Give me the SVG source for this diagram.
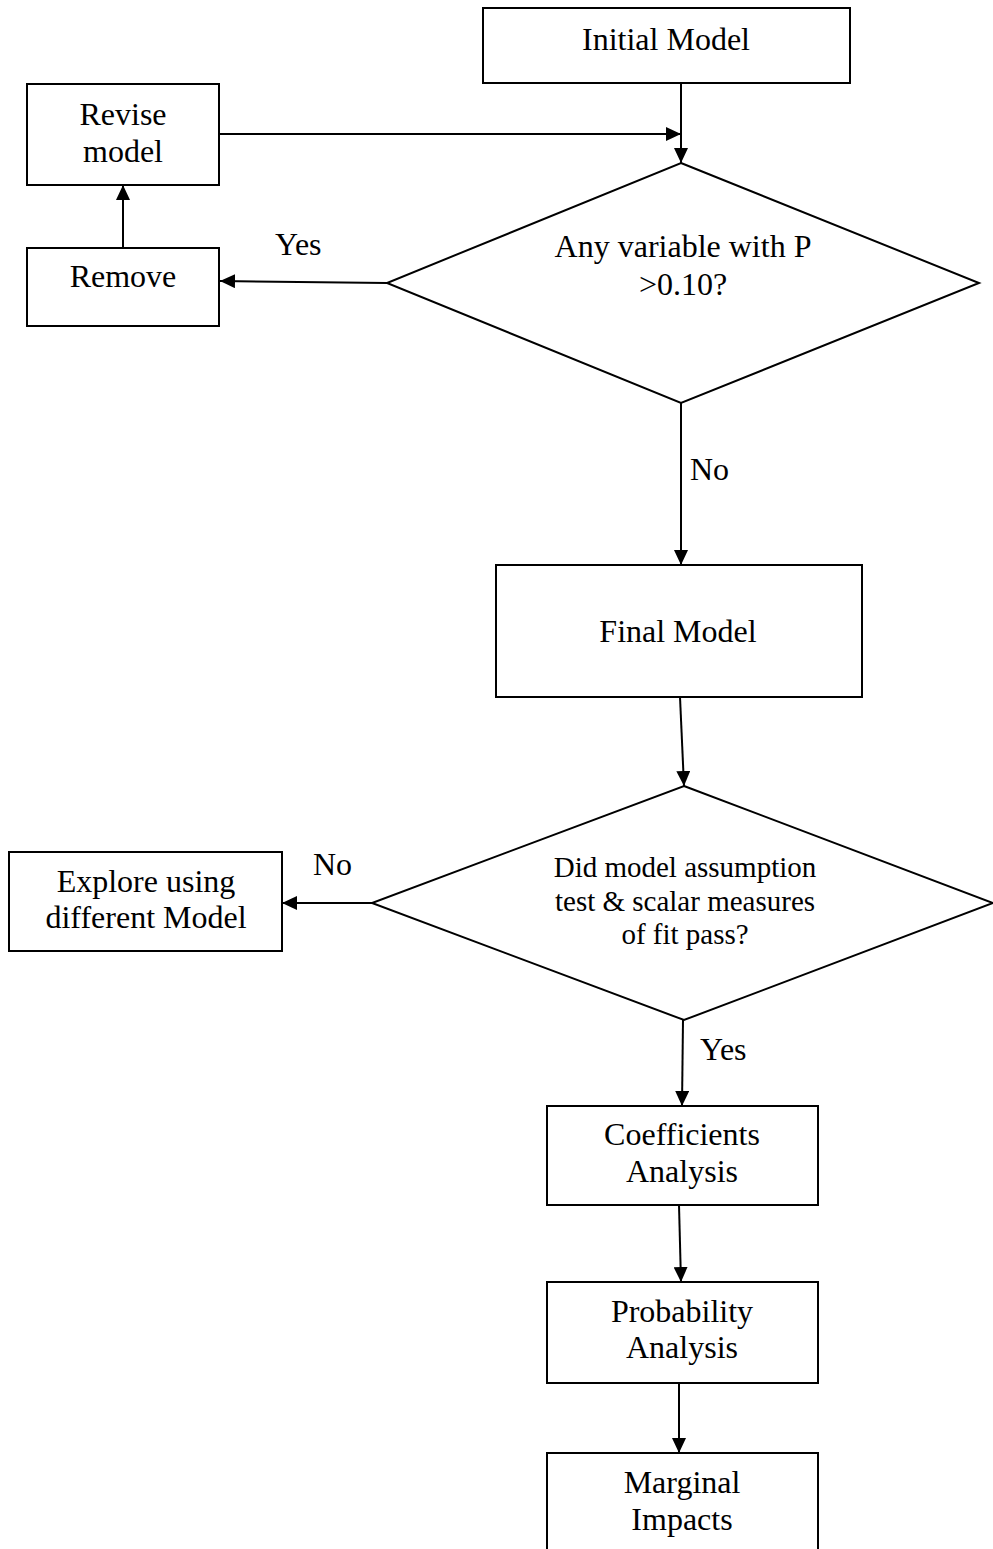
<svg xmlns="http://www.w3.org/2000/svg" width="993" height="1549" viewBox="0 0 993 1549">
<style>
.box{fill:#fff;stroke:#000;stroke-width:2}
.dia{fill:#fff;stroke:#000;stroke-width:2}
.t{font-family:"Liberation Serif","Times New Roman",serif;font-size:32px;fill:#000;text-anchor:middle}
.ts{font-family:"Liberation Serif","Times New Roman",serif;font-size:29px;fill:#000;text-anchor:middle}
.lbl{font-family:"Liberation Serif","Times New Roman",serif;font-size:32px;fill:#000}
.c{fill:none;stroke:#000;stroke-width:2;marker-end:url(#ah)}
</style>
<defs>
<marker id="ah" markerUnits="userSpaceOnUse" markerWidth="15" markerHeight="14" refX="15" refY="7" orient="auto">
<path d="M0,0 L15,7 L0,14 z" fill="#000"/>
</marker>
</defs>
<rect width="993" height="1549" fill="#fff"/>
<g id="connectors">
<line class="c" x1="681" y1="83" x2="681" y2="163"/>
<line class="c" x1="219" y1="134" x2="681" y2="134"/>
<line class="c" x1="387" y1="283" x2="220" y2="281"/>
<line class="c" x1="123" y1="248" x2="123" y2="185"/>
<line class="c" x1="681" y1="403" x2="681" y2="565"/>
<line class="c" x1="680" y1="697" x2="684" y2="786"/>
<line class="c" x1="372" y1="903" x2="282" y2="903"/>
<line class="c" x1="683" y1="1020" x2="682" y2="1106"/>
<line class="c" x1="679" y1="1205" x2="681" y2="1282"/>
<line class="c" x1="679" y1="1383" x2="679" y2="1453"/>
<text class="lbl" x="275" y="255">Yes</text>
<text class="lbl" x="690" y="480">No</text>
<text class="lbl" x="313" y="875">No</text>
<text class="lbl" x="700" y="1060">Yes</text>
</g>
<g id="initial-model">
<rect class="box" x="483" y="8" width="367" height="75"/>
<text class="t" x="666" y="50">Initial Model</text>
</g>
<g id="revise-model">
<rect class="box" x="27" y="84" width="192" height="101"/>
<text class="t" x="123" y="125">Revise</text>
<text class="t" x="123" y="162">model</text>
</g>
<g id="remove">
<rect class="box" x="27" y="248" width="192" height="78"/>
<text class="t" x="123" y="287">Remove</text>
</g>
<g id="decision-p">
<polygon class="dia" points="681,163 979,283 681,403 387,283"/>
<text class="t" x="683" y="257">Any variable with P</text>
<text class="t" x="683" y="295">&gt;0.10?</text>
</g>
<g id="final-model">
<rect class="box" x="496" y="565" width="366" height="132"/>
<text class="t" x="678" y="642">Final Model</text>
</g>
<g id="decision-fit">
<polygon class="dia" points="684,786 993,903 684,1020 372,903"/>
<text class="ts" x="685" y="877">Did model assumption</text>
<text class="ts" x="685" y="911">test &amp; scalar measures</text>
<text class="ts" x="685" y="944">of fit pass?</text>
</g>
<g id="explore">
<rect class="box" x="9" y="852" width="273" height="99"/>
<text class="t" x="146" y="892">Explore using</text>
<text class="t" x="146" y="928">different Model</text>
</g>
<g id="coefficients">
<rect class="box" x="547" y="1106" width="271" height="99"/>
<text class="t" x="682" y="1145">Coefficients</text>
<text class="t" x="682" y="1182">Analysis</text>
</g>
<g id="probability">
<rect class="box" x="547" y="1282" width="271" height="101"/>
<text class="t" x="682" y="1322">Probability</text>
<text class="t" x="682" y="1358">Analysis</text>
</g>
<g id="marginal">
<rect class="box" x="547" y="1453" width="271" height="120"/>
<text class="t" x="682" y="1493">Marginal</text>
<text class="t" x="682" y="1530">Impacts</text>
</g>
</svg>
